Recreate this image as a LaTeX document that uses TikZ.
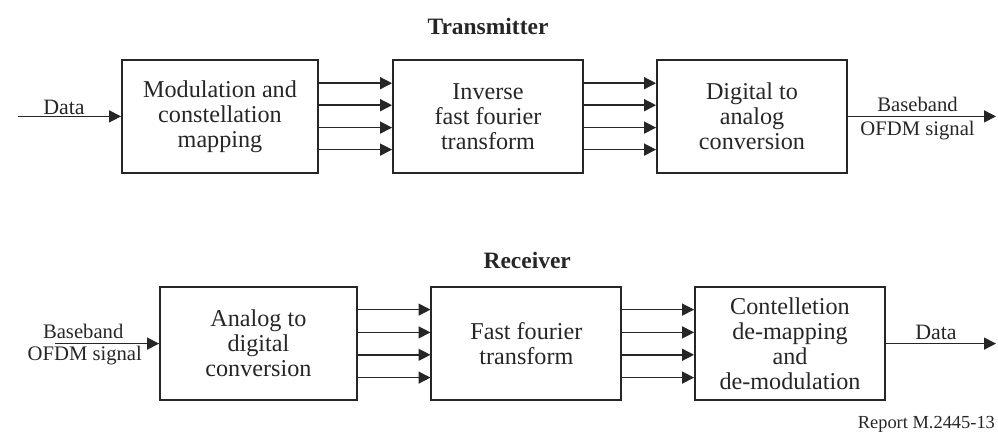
\documentclass[tikz,border=0pt]{standalone}
\usepackage{fontspec}
\setmainfont{Liberation Serif}
\usepackage{xcolor}
\usepackage{tikz}
\usetikzlibrary{arrows.meta}
\colorlet{ink}{black!85}
\tikzstyle{block} = [rectangle, minimum width=4.75cm, minimum height=2.83cm, text centered, align=center, draw=ink, line width=1.3pt, text=ink, font=\fontsize{17.2}{17.8}\selectfont]
\tikzstyle{arrow} = [line width=1pt, draw=ink, ->, >={Triangle[length=8.5pt,width=8.5pt]}]
\tikzstyle{lbl} = [text=ink, anchor=base, inner sep=0pt, font=\fontsize{14.7}{16}\selectfont]
\tikzstyle{title} = [text=ink, anchor=base, font=\fontsize{16.7}{18}\selectfont\bfseries]

\begin{document}
\begin{tikzpicture}
	\useasboundingbox (0,0) rectangle (24.95,-10.8);
	% transmitter
	\node (tx) [title] at (12.2,-0.87) {Transmitter};
	\node (mod) [block, minimum width=4.9cm] at (5.5,-2.91) {Modulation and\\constellation\\mapping};
	\node (ifft) [block] at (12.2,-2.91) {Inverse\\fast fourier\\transform};
	\node (dac) [block] at (18.8,-2.91) {Digital to\\analog\\conversion};
	\coordinate (txin) at (0.45,-2.91);
	\coordinate (txout) at (24.9,-2.91);
	\draw [arrow] (txin) -- (mod.west);
	\node (txdata) [lbl, font=\fontsize{15.6}{17}\selectfont] at (1.6,-2.86) {Data};
	\foreach \dy in {0.83,0.28,-0.28,-0.83} {
		\draw [arrow] ([yshift=\dy cm]mod.east) -- ([yshift=\dy cm]ifft.west);
		\draw [arrow] ([yshift=\dy cm]ifft.east) -- ([yshift=\dy cm]dac.west);
	}
	\draw [arrow] (dac.east) -- (txout);
	\node (txbb) [lbl] at (22.94,-2.78) {Baseband};
	\node (txofdm) [lbl] at (22.94,-3.38) {OFDM signal};
	% receiver
	\node (rx) [title] at (13.18,-6.7) {Receiver};
	\node (adc) [block, minimum width=4.92cm] at (6.46,-8.59) {Analog to\\digital\\conversion};
	\node (fft) [block] at (13.16,-8.59) {Fast fourier\\transform};
	\node (demap) [block] at (19.75,-8.59) {Contelletion\\de-mapping\\and\\de-modulation};
	\coordinate (rxin) at (1.38,-8.59);
	\coordinate (rxout) at (24.9,-8.59);
	\node (rxbb) [lbl] at (2.08,-8.46) {Baseband};
	\node (rxofdm) [lbl] at (2.12,-9.0) {OFDM signal};
	\draw [arrow] (rxin) -- (adc.west);
	\foreach \dy in {0.85,0.28,-0.28,-0.85} {
		\draw [arrow] ([yshift=\dy cm]adc.east) -- ([yshift=\dy cm]fft.west);
		\draw [arrow] ([yshift=\dy cm]fft.east) -- ([yshift=\dy cm]demap.west);
	}
	\draw [arrow] (demap.east) -- (rxout);
	\node (rxdata) [lbl, font=\fontsize{15.6}{17}\selectfont] at (23.4,-8.49) {Data};
	\node (rep) [text=ink, anchor=base east, inner sep=0pt, font=\fontsize{13.1}{14}\selectfont] at (24.88,-10.7) {Report M.2445-13};
\end{tikzpicture}
\end{document}
